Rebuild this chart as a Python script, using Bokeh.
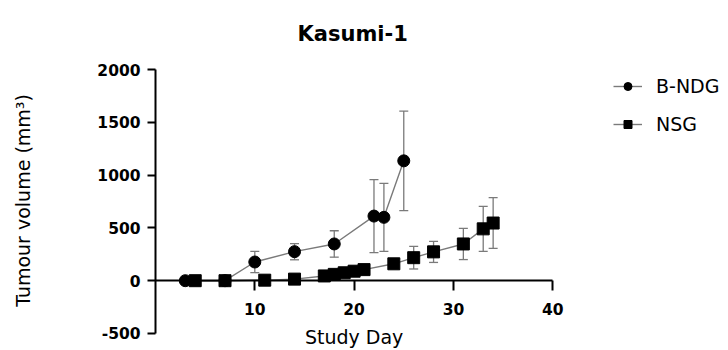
from bokeh.plotting import figure
from bokeh.models import (ColumnDataSource, Range1d, FixedTicker, Whisker, TeeHead,
                          Legend, LegendItem, Label)
from bokeh.embed import file_html
from bokeh.resources import INLINE

# ---- data ----
bndg_day = [3, 7, 10, 14, 18, 22, 23, 25]
bndg_mean = [0, 0, 177, 275, 348, 612, 600, 1135]
bndg_err = [0, 0, 101, 77, 125, 346, 322, 471]

nsg_day = [4, 7, 11, 14, 17, 18, 19, 20, 21, 24, 26, 28, 31, 33, 34]
nsg_mean = [0, 0, 5, 15, 45, 60, 75, 90, 105, 160, 218, 273, 348, 491, 546]
nsg_err = [0, 0, 0, 0, 10, 10, 15, 15, 20, 30, 107, 100, 148, 213, 240]

x_ticks = [10, 20, 30, 40]
y_ticks = [-500, 0, 500, 1000, 1500, 2000]
series_names = ["B-NDG", "NSG"]
title_text = "Kasumi-1"

FONT = "DejaVu Sans"
GRAY = "#7a7a7a"

# frame extends beyond the axes so that labels and legend are not clipped;
# the axis lines themselves are limited with bounds
p = figure(width=728, height=350, output_backend="svg", toolbar_location=None,
           x_range=Range1d(0, 57.7), y_range=Range1d(-661, 2180),
           x_axis_location="above", title=title_text,
           min_border_left=155, min_border_right=0, min_border_top=50, min_border_bottom=0)
p.outline_line_color = None
p.grid.visible = False
p.background_fill_color = "white"
p.border_fill_color = "white"

p.title.align = "left"
p.title.offset = 142
p.title.text_font = FONT
p.title.text_font_size = "21px"
p.title.text_font_style = "bold"
p.title.text_color = "black"

# x axis drawn at y = 0
xa = p.xaxis[0]
xa.fixed_location = 0
xa.bounds = (0, 40)
xa.ticker = FixedTicker(ticks=x_ticks)
xa.minor_tick_line_color = None
xa.major_tick_out = 0
xa.major_tick_in = 10
xa.axis_line_width = 2
xa.major_tick_line_width = 2
xa.axis_line_color = "black"
xa.major_tick_line_color = "black"
xa.major_label_text_font = FONT
xa.major_label_text_font_size = "15.5px"
xa.major_label_text_font_style = "bold"
xa.major_label_text_color = "black"
xa.major_label_standoff = -34

ya = p.yaxis[0]
ya.bounds = (-500, 2000)
ya.ticker = FixedTicker(ticks=y_ticks)
ya.major_label_overrides = {t: str(t) for t in y_ticks}
ya.minor_tick_line_color = None
ya.major_tick_out = 8
ya.major_tick_in = 0
ya.axis_line_width = 2
ya.major_tick_line_width = 2
ya.axis_line_color = "black"
ya.major_tick_line_color = "black"
ya.major_label_text_font = FONT
ya.major_label_text_font_size = "15.5px"
ya.major_label_text_font_style = "bold"
ya.major_label_text_color = "black"
ya.major_label_standoff = 7
ya.axis_label = "Tumour volume (mm³)"
ya.axis_label_text_font = FONT
ya.axis_label_text_font_size = "19px"
ya.axis_label_text_font_style = "normal"
ya.axis_label_text_color = "black"
ya.axis_label_standoff = 60

p.add_layout(Label(x=20, y=-500, text="Study Day", text_align="center", text_baseline="top",
                   y_offset=7, text_font=FONT, text_font_size="19px", text_color="black"))

items = []
for name, day, mean, err, marker, size in [
        (series_names[0], bndg_day, bndg_mean, bndg_err, "circle", 12),
        (series_names[1], nsg_day, nsg_mean, nsg_err, "square", 12)]:
    src = ColumnDataSource(dict(x=day, y=mean,
                                upper=[m + e for m, e in zip(mean, err)],
                                lower=[m - e for m, e in zip(mean, err)]))
    w = Whisker(source=src, base="x", upper="upper", lower="lower", dimension="height",
                line_color=GRAY, line_width=1.3,
                upper_head=TeeHead(size=9, line_color=GRAY, line_width=1.3),
                lower_head=TeeHead(size=9, line_color=GRAY, line_width=1.3))
    p.add_layout(w)
    ln = p.line("x", "y", source=src, line_color=GRAY, line_width=1.4)
    sc = p.scatter("x", "y", source=src, marker=marker, size=size,
                   fill_color="black", line_color="black")
    items.append(LegendItem(label=name, renderers=[ln, sc]))

legend = Legend(items=items, location=(458, 215), orientation="vertical",
                glyph_width=29, glyph_height=20, label_height=20, spacing=16,
                label_standoff=14, padding=0, margin=0,
                border_line_color=None, background_fill_alpha=0,
                label_text_font=FONT, label_text_font_size="19px", label_text_color="black")
p.add_layout(legend, "center")

open("out.html", "w").write(file_html(p, INLINE))
